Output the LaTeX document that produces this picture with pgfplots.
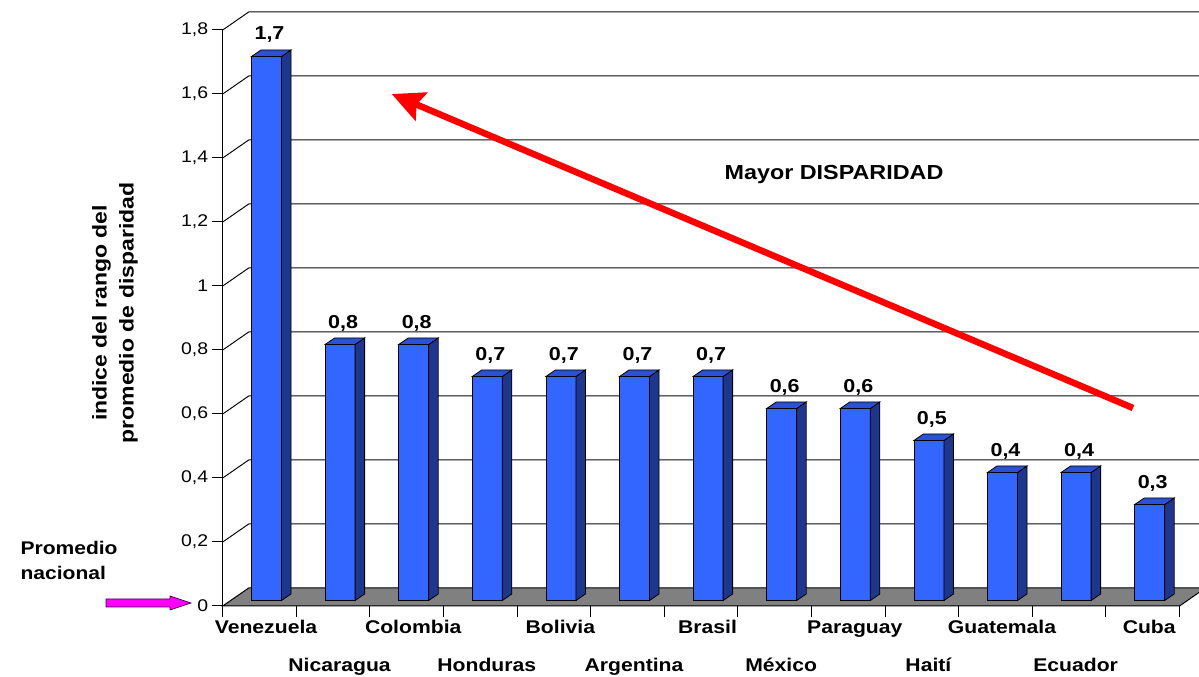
\documentclass[border=0pt]{standalone}
\usepackage{pgfplots}
\usepackage{pgfplotstable}
\pgfplotsset{compat=1.18}
\usepackage{fontspec}
\setmainfont{Liberation Sans}[FakeStretch=1.15]
\usetikzlibrary{arrows.meta}

\definecolor{barfront}{RGB}{51,102,255}
\definecolor{barside}{RGB}{30,55,140}
\definecolor{bartop}{RGB}{42,82,214}
\definecolor{floorgray}{RGB}{128,128,128}
\definecolor{wallline}{RGB}{10,10,10}
\definecolor{pinkarrow}{RGB}{255,0,255}

\pgfplotstableread{
x y
0.5 1.7
1.5 0.8
2.5 0.8
3.5 0.7
4.5 0.7
5.5 0.7
6.5 0.7
7.5 0.6
8.5 0.6
9.5 0.5
10.5 0.4
11.5 0.4
12.5 0.3
}\disparidad

% 3D bar: mark at the value on the front plane, height 320pt per unit
\pgfdeclareplotmark{bar3d}{%
  \pgfmathsetmacro\barh{\barval*320}%
  \pgfsetlinewidth{0.8pt}\pgfsetstrokecolor{black}%
  \pgfpathmoveto{\pgfpoint{-8pt}{5.5pt}}%
  \pgfpathlineto{\pgfpoint{22pt}{5.5pt}}%
  \pgfpathlineto{\pgfpoint{22pt}{5.5pt-\barh pt}}%
  \pgfpathlineto{\pgfpoint{-8pt}{5.5pt-\barh pt}}%
  \pgfpathclose
  \pgfsetfillcolor{barfront}\pgfusepath{fill,stroke}%
  \pgfpathmoveto{\pgfpoint{22pt}{5.5pt}}%
  \pgfpathlineto{\pgfpoint{31.5pt}{12pt}}%
  \pgfpathlineto{\pgfpoint{31.5pt}{12pt-\barh pt}}%
  \pgfpathlineto{\pgfpoint{22pt}{5.5pt-\barh pt}}%
  \pgfpathclose
  \pgfsetfillcolor{barside}\pgfusepath{fill,stroke}%
  \pgfpathmoveto{\pgfpoint{-8pt}{5.5pt}}%
  \pgfpathlineto{\pgfpoint{22pt}{5.5pt}}%
  \pgfpathlineto{\pgfpoint{31.5pt}{12pt}}%
  \pgfpathlineto{\pgfpoint{1.5pt}{12pt}}%
  \pgfpathclose
  \pgfsetfillcolor{bartop}\pgfusepath{fill,stroke}%
}

\begin{document}
\begin{tikzpicture}[x=1pt,y=1pt]
\useasboundingbox (0,0) rectangle (1199,677);
\begin{axis}[
    at={(222.7pt,71pt)}, anchor=south west,
    scale only axis, width=956.8pt, height=576pt,
    xmin=0, xmax=13, ymin=0, ymax=1.8,
    clip=false,
    axis x line*=bottom, axis y line*=left,
    axis line style={black, line width=1pt},
    tick style={black, line width=1pt},
    tick align=outside,
    major tick length=0pt, minor tick length=11pt,
    ytick={0,0.2,0.4,0.6,0.8,1,1.2,1.4,1.6,1.8},
    minor ytick={0,0.2,0.4,0.6,0.8,1,1.2,1.4,1.6,1.8},
    /pgf/number format/use comma,
    /pgf/number format/assume math mode=true,
    yticklabel style={font=\fontsize{16.9}{20}\selectfont, xshift=-11pt},
    xtick={0.5,2.5,4.5,6.5,8.5,10.5,12.5},
    xticklabels={Venezuela,Colombia,Bolivia,Brasil,Paraguay,Guatemala,Cuba},
    extra x ticks={1.5,3.5,5.5,7.5,9.5,11.5},
    extra x tick labels={Nicaragua,Honduras,Argentina,México,Haití,Ecuador},
    extra x tick style={xticklabel style={yshift=-38pt}},
    minor xtick={0,1,...,13},
    xticklabel style={font=\bfseries\fontsize{18.4}{22}\selectfont,
      anchor=base, inner sep=0pt, yshift=-28pt, xshift=6.5pt},
  ]
  % back wall and side wall lines
  \pgfplotsinvokeforeach{0.2,0.4,0.6,0.8,1,1.2,1.4,1.6,1.8}{
    \draw[wallline, line width=1pt] (axis cs:0,#1) -- ([shift={(26pt,18pt)}]axis cs:0,#1)
      -- ([shift={(26pt,18pt)}]axis cs:13,#1);
  }
  % floor
  \draw[fill=floorgray, draw=black, line width=1pt] (axis cs:0,0) -- (axis cs:13,0)
    -- ([shift={(26pt,18pt)}]axis cs:13,0) -- ([shift={(26pt,18pt)}]axis cs:0,0) -- cycle;
  \addplot[only marks, mark=bar3d,
    visualization depends on={rawy \as \barval},
    nodes near coords,
    every node near coord/.append style={anchor=center, xshift=10pt, yshift=27pt,
      font=\bfseries\fontsize{18.7}{22}\selectfont, black}]
    table[x=x, y=y] {\disparidad};
\end{axis}
% annotations
\draw[red, line width=6.5pt, -{Stealth[length=32pt,width=30pt,inset=5pt]}]
  (1133,269) -- (391.7,583);
\node[anchor=base, font=\bfseries\fontsize{20.3}{24}\selectfont] at (834,497.7) {Mayor DISPARIDAD};
\node[rotate=90, align=center, font=\bfseries\fontsize{20}{27}\selectfont] at (115,364)
  {indice del rango del\\promedio de disparidad};
\node[anchor=base west, font=\bfseries\fontsize{18.3}{22}\selectfont] at (17,122) {Promedio};
\node[anchor=base west, font=\bfseries\fontsize{18.3}{22}\selectfont] at (17,97) {nacional};
\filldraw[fill=pinkarrow, draw=violet!50!black, line width=0.7pt]
  (106,70) -- (170,70) -- (170,67) -- (191,74) -- (170,81) -- (170,78) -- (106,78) -- cycle;
\end{tikzpicture}
\end{document}
